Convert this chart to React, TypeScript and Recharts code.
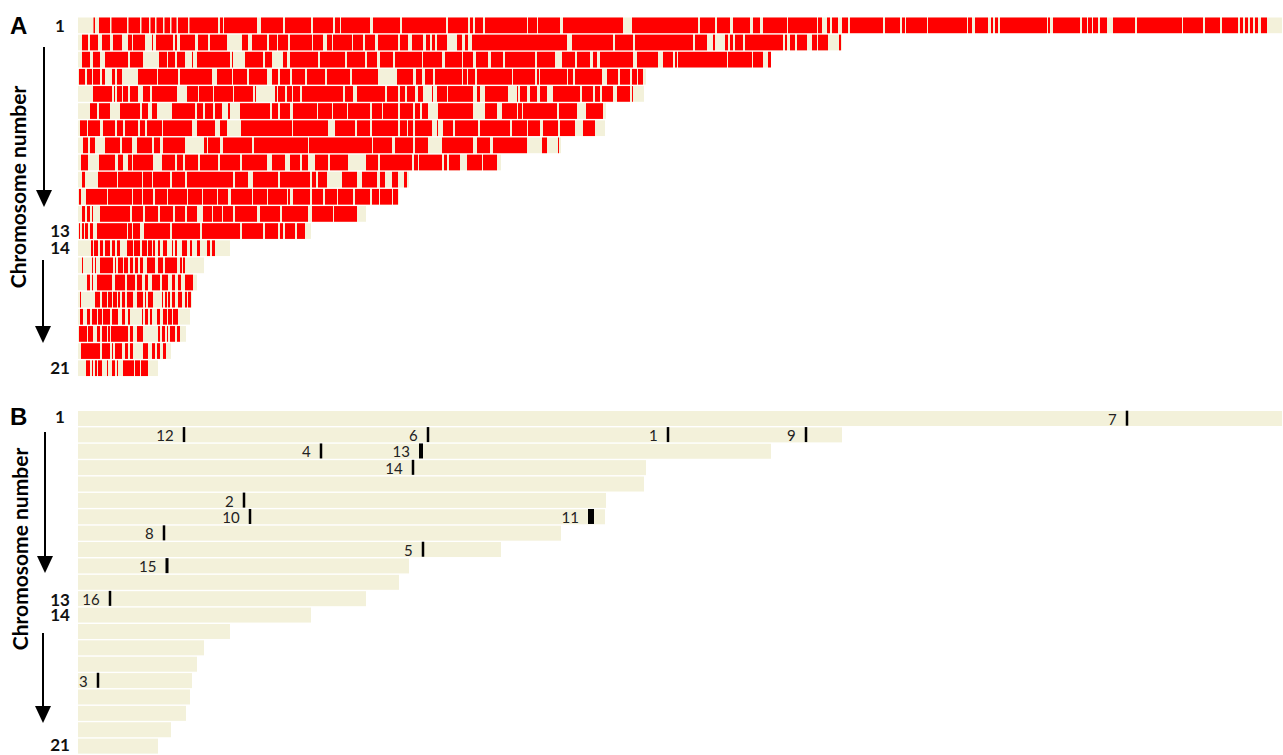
import React from 'react'
import { Bar, BarChart, ReferenceDot, XAxis, YAxis } from 'recharts'

// chromosome ids and lengths (same units as the segment coordinates below)
const chromosomes = [1, 2, 3, 4, 5, 6, 7, 8, 9, 10, 11, 12, 13, 14, 15, 16, 17, 18, 19, 20, 21]
const lengths = [1204, 764, 693, 568, 566, 528, 527, 483, 423, 331, 321, 288, 233, 152, 126, 119, 114, 112, 108, 93, 80]

// red blocks per chromosome, [start, end]
const redChr1 = [[15.5, 17], [21, 32], [33.5, 49], [50.5, 62], [63.5, 71], [72.5, 77], [78.5, 85], [86.5, 92], [93.5, 98.5], [100, 110], [111.5, 140], [142, 145], [146, 179], [183, 205], [207, 233], [235, 255], [257, 262], [263, 292], [295, 322], [324, 368], [370, 390], [392, 395], [397, 405], [407, 449], [450, 459], [460, 482], [485, 545], [554, 620], [622, 637], [639, 652], [655, 672], [675, 682], [685, 709], [710, 739], [740, 744], [749, 752], [754, 760], [764, 770], [772, 805], [807, 822], [824, 827], [828, 849], [850, 889], [890, 894], [897, 910], [913, 915], [917, 920], [922, 969], [970, 972], [975, 1002], [1004, 1009], [1010, 1014], [1015, 1020], [1022, 1029], [1035, 1057], [1059, 1104], [1105, 1125], [1127, 1142], [1144, 1160], [1162, 1165], [1167, 1170], [1172, 1175], [1177, 1180], [1183, 1189]]
const redChr2 = [[4, 10], [12, 20], [24, 32], [35, 44], [50, 54], [55, 67], [74, 75], [78, 95], [97, 99], [102, 117], [120, 130], [132, 149], [164, 170], [174, 189], [191, 199], [200, 210], [212, 234], [235, 245], [249, 254], [255, 274], [275, 285], [287, 297], [300, 320], [322, 330], [334, 345], [348, 352], [354, 357], [359, 369], [379, 384], [387, 390], [394, 489], [494, 535], [537, 555], [557, 615], [617, 629], [635, 637], [647, 650], [652, 655], [657, 665], [667, 705], [707, 709], [712, 717], [719, 729], [734, 739], [740, 750], [761, 763]]
const redChr3 = [[4, 12], [15, 22], [27, 50], [52, 65], [81, 89], [90, 97], [99, 107], [114, 115], [119, 152], [154, 155], [167, 185], [187, 194], [205, 209], [212, 240], [242, 267], [269, 287], [289, 299], [302, 315], [317, 344], [345, 364], [367, 384], [385, 395], [398, 410], [413, 425], [427, 457], [459, 477], [484, 497], [499, 512], [515, 519], [522, 555], [559, 580], [585, 595], [597, 599], [600, 649], [650, 674], [675, 685], [690, 693]]
const redChr4 = [[1, 7], [9, 14], [15, 22], [24, 27], [34, 37], [39, 44], [60, 79], [80, 100], [102, 134], [139, 154], [155, 169], [171, 189], [194, 200], [202, 212], [214, 227], [229, 247], [249, 272], [274, 300], [319, 335], [338, 344], [347, 355], [357, 384], [385, 389], [390, 397], [399, 434], [435, 457], [459, 461], [462, 489], [490, 495], [497, 524], [529, 540], [542, 552], [554, 559], [560, 565]]
const redChr5 = [[15, 34], [36, 37], [39, 44], [45, 50], [52, 60], [65, 72], [74, 99], [109, 120], [121, 135], [136, 155], [156, 175], [177, 178], [197, 199], [200, 207], [209, 214], [215, 222], [224, 265], [267, 275], [279, 307], [309, 320], [322, 327], [329, 337], [340, 345], [354, 355], [359, 369], [370, 395], [399, 402], [407, 430], [439, 440], [442, 449], [452, 459], [462, 469], [475, 502], [504, 515], [517, 522], [524, 535], [539, 552], [554, 555]]
const redChr6 = [[12, 19], [21, 32], [42, 62], [64, 70], [74, 79], [94, 117], [119, 125], [127, 135], [137, 144], [150, 152], [162, 192], [194, 200], [202, 212], [215, 239], [240, 254], [255, 269], [270, 292], [294, 304], [305, 320], [322, 335], [337, 342], [344, 350], [360, 395], [407, 419], [424, 439], [440, 444], [445, 479], [481, 499], [508, 525]]
const redChr7 = [[2, 9], [10, 22], [25, 37], [39, 45], [47, 60], [62, 67], [69, 84], [85, 114], [119, 137], [142, 149], [163, 214], [215, 250], [257, 277], [279, 292], [294, 320], [322, 329], [330, 335], [337, 354], [359, 360], [365, 375], [377, 400], [402, 432], [434, 449], [450, 462], [465, 480], [482, 497], [505, 517]]
const redChr8 = [[5, 10], [12, 17], [27, 42], [44, 54], [59, 74], [76, 82], [85, 107], [126, 129], [130, 142], [145, 174], [176, 230], [231, 294], [295, 314], [317, 335], [337, 350], [364, 395], [399, 412], [415, 449], [464, 469], [480, 481]]
const redChr9 = [[3, 10], [21, 37], [40, 45], [50, 54], [55, 75], [84, 97], [99, 105], [107, 120], [122, 140], [142, 162], [164, 189], [194, 207], [212, 222], [224, 230], [237, 250], [252, 270], [288, 300], [302, 334], [336, 340], [341, 364], [366, 369], [371, 382], [389, 404], [405, 419]]
const redChr10 = [[4, 7], [20, 39], [40, 64], [65, 74], [75, 92], [94, 107], [109, 155], [157, 170], [175, 200], [202, 232], [234, 238], [240, 249], [264, 279], [284, 299], [302, 307], [314, 320], [326, 329]]
const redChr11 = [[1, 3], [8, 29], [30, 54], [55, 64], [65, 75], [77, 89], [90, 109], [110, 124], [125, 139], [140, 150], [153, 174], [175, 189], [190, 209], [210, 212], [215, 232], [234, 245], [247, 259], [260, 275], [277, 292], [294, 301], [302, 314], [315, 320]]
const redChr12 = [[4, 7], [9, 12], [14, 15], [22, 52], [54, 65], [67, 80], [82, 95], [97, 107], [109, 119], [125, 134], [135, 144], [145, 155], [157, 179], [182, 202], [204, 230], [234, 255], [256, 279]]
const redChr13 = [[1, 2], [4, 6], [7, 10], [12, 15], [19, 49], [50, 54], [55, 62], [66, 92], [94, 122], [124, 162], [164, 185], [187, 200], [202, 205], [207, 217], [219, 227]]
const redChr14 = [[13, 15], [16, 20], [22, 25], [27, 32], [34, 37], [39, 42], [49, 55], [56, 62], [64, 69], [70, 74], [75, 77], [80, 82], [85, 89], [94, 95], [97, 99], [104, 109], [112, 114], [119, 122], [129, 132], [134, 137]]
const redChr15 = [[4, 5], [14, 15], [17, 18], [22, 35], [37, 38], [40, 45], [46, 50], [52, 55], [57, 60], [62, 65], [69, 77], [80, 85], [87, 99], [102, 104], [105, 107]]
const redChr16 = [[9, 12], [14, 15], [19, 34], [37, 47], [49, 57], [59, 64], [67, 70], [74, 82], [84, 90], [94, 97], [100, 103], [107, 115]]
const redChr17 = [[2, 3], [17, 22], [24, 29], [30, 34], [35, 39], [40, 42], [44, 47], [49, 55], [59, 65], [67, 68], [70, 75], [84, 85], [87, 89], [90, 92], [94, 97], [100, 104], [107, 109], [110, 113]]
const redChr18 = [[2, 5], [9, 12], [14, 19], [20, 24], [25, 32], [34, 40], [44, 47], [50, 52], [64, 65], [67, 70], [72, 74], [79, 82], [85, 89], [90, 94], [95, 100]]
const redChr19 = [[1, 9], [10, 15], [19, 22], [24, 29], [30, 32], [33, 50], [52, 55], [59, 65], [80, 82], [84, 87], [89, 90], [92, 97], [99, 102]]
const redChr20 = [[3, 22], [24, 32], [34, 35], [37, 44], [47, 50], [52, 55], [65, 70], [74, 77], [79, 82], [85, 88]]
const redChr21 = [[8, 12], [14, 15], [17, 19], [20, 24], [29, 30], [34, 37], [39, 40], [45, 56], [57, 62], [63, 70]]

const redSegments = [
  redChr1, redChr2, redChr3, redChr4, redChr5, redChr6, redChr7, redChr8, redChr9, redChr10, redChr11,
  redChr12, redChr13, redChr14, redChr15, redChr16, redChr17, redChr18, redChr19, redChr20, redChr21,
]

// numbered loci for panel B
const markerLabels = ['7', '12', '6', '1', '9', '4', '13', '14', '2', '10', '11', '8', '5', '15', '16', '3']
const markerChrom = [1, 2, 2, 2, 2, 3, 3, 4, 6, 7, 7, 8, 9, 10, 12, 17]
const markerPos = [1049, 106, 350, 590, 728, 243, 343, 335, 166, 172, 513, 86, 345, 89, 32, 20]
const markerSpan = [2.5, 2.5, 2.5, 2.5, 2.5, 2.5, 4, 2.5, 2.5, 2.5, 6, 2.5, 2.5, 3, 2.5, 2.5]

const axisTicks = [1, 13, 14, 21]

const BEIGE = '#f3f1da'
const RED = '#ff0000'
const MAX_LEN = 1204
const PLOT_W = 1204
const LABEL_FONT = 'Lato, "Open Sans", sans-serif'

const rows = chromosomes.map((c, i) => ({ chrom: c, length: lengths[i], red: redSegments[i] }))

function ChromTick(props: any) {
  const { y, payload, shift } = props
  if (!axisTicks.includes(payload.value)) return <g />
  const dy = shift?.[payload.value] ?? 0
  return (
    <text
      x={60}
      y={y + dy}
      textAnchor="middle"
      dominantBaseline="central"
      fontFamily={LABEL_FONT}
      fontWeight={700}
      fontSize={17}
      fill="#111"
    >
      {payload.value}
    </text>
  )
}

const shapeA = (props: any) => {
  const { x, y, width, height, payload } = props
  const k = width / payload.length
  return (
    <g>
      <rect x={x} y={y} width={width} height={height} fill={BEIGE} />
      {payload.red.map(([s, e]: number[], i: number) => (
        <rect key={i} x={x + s * k} y={y} width={(e - s) * k} height={height} fill={RED} />
      ))}
    </g>
  )
}

const shapeB = (props: any) => {
  const { x, y, width, height } = props
  return <rect x={x} y={y} width={width} height={height} fill={BEIGE} />
}

const markerShape = (span: number, label: string) => (props: any) => {
  const { cx, cy } = props
  const w = (span * PLOT_W) / MAX_LEN
  return (
    <g>
      <rect x={cx - w / 2} y={cy - 7.5} width={w} height={15} fill="#000" />
      <text
        x={cx - w / 2 - 9}
        y={cy + 6.5}
        textAnchor="end"
        fontFamily={LABEL_FONT}
        fontSize={15}
        fill="#222"
      >
        {label}
      </text>
    </g>
  )
}

function Arrow({ x, y1, y2 }: { x: number; y1: number; y2: number }) {
  return (
    <g>
      <line x1={x} y1={y1} x2={x} y2={y2 - 16} stroke="#000" strokeWidth={2} />
      <polygon points={`${x - 8},${y2 - 17} ${x + 8},${y2 - 17} ${x},${y2}`} fill="#000" />
    </g>
  )
}

export default function App() {
  return (
    <div style={{ position: 'absolute', left: 0, top: 0, width: 1283, height: 755, background: '#fff' }}>
      <div style={{ position: 'absolute', left: 0, top: 0 }}>
        <BarChart
          width={1283}
          height={390}
          data={rows}
          layout="vertical"
          barSize={15.7}
          margin={{ top: 16.5, right: 1, bottom: 13.5, left: 0 }}
        >
          <XAxis type="number" domain={[0, MAX_LEN]} hide />
          <YAxis
            type="category"
            dataKey="chrom"
            width={78}
            axisLine={false}
            tickLine={false}
            interval={0}
            tick={<ChromTick />}
          />
          <Bar dataKey="length" shape={shapeA} isAnimationActive={false} />
        </BarChart>
      </div>
      <div style={{ position: 'absolute', left: 0, top: 395 }}>
        <BarChart
          width={1283}
          height={360}
          data={rows}
          layout="vertical"
          barSize={15}
          margin={{ top: 15, right: 1, bottom: 1, left: 0 }}
        >
          <XAxis type="number" domain={[0, MAX_LEN]} hide />
          <YAxis
            type="category"
            dataKey="chrom"
            width={78}
            axisLine={false}
            tickLine={false}
            interval={0}
            tick={<ChromTick shift={{ 1: -2, 13: -15, 14: -17, 21: -1 }} />}
          />
          <Bar dataKey="length" shape={shapeB} isAnimationActive={false} />
          {markerLabels.map((lab, i) => (
            <ReferenceDot
              key={lab}
              x={markerPos[i]}
              y={markerChrom[i]}
              r={0}
              shape={markerShape(markerSpan[i], lab)}
            />
          ))}
        </BarChart>
      </div>
      <svg
        width={1283}
        height={755}
        style={{ position: 'absolute', left: 0, top: 0, pointerEvents: 'none' }}
      >
        <text x={10} y={34} fontFamily='"Liberation Sans", Arial, sans-serif' fontWeight={700} fontSize={24}>A</text>
        <text x={10} y={425} fontFamily='"Liberation Sans", Arial, sans-serif' fontWeight={700} fontSize={24}>B</text>
        <text
          transform="translate(17,187) rotate(-90)"
          textAnchor="middle"
          dominantBaseline="central"
          fontFamily={LABEL_FONT}
          fontWeight={700}
          fontSize={21}
        >
          Chromosome number
        </text>
        <text
          transform="translate(19,549) rotate(-90)"
          textAnchor="middle"
          dominantBaseline="central"
          fontFamily={LABEL_FONT}
          fontWeight={700}
          fontSize={21}
        >
          Chromosome number
        </text>
        <Arrow x={44} y1={47} y2={207} />
        <Arrow x={43} y1={260} y2={343} />
        <Arrow x={45} y1={432} y2={573} />
        <Arrow x={43} y1={633} y2={723} />
      </svg>
    </div>
  )
}
